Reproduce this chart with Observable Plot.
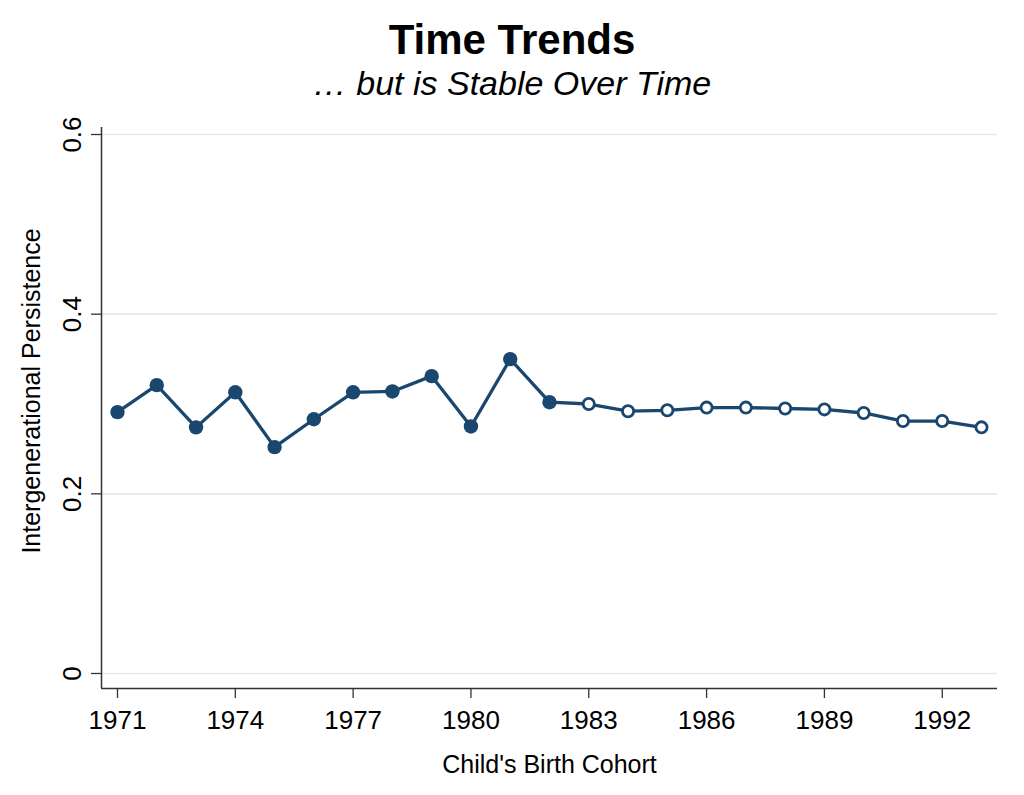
<!DOCTYPE html>
<html>
<head>
<meta charset="utf-8">
<script src="https://cdn.jsdelivr.net/npm/d3@7"></script>
<script src="https://cdn.jsdelivr.net/npm/@observablehq/plot@0.6"></script>
<style>
  html, body { margin: 0; padding: 0; background: #fff; }
  body { width: 1024px; height: 795px; position: relative; overflow: hidden; font-family: "Liberation Sans", Arial, sans-serif; }
  #title { position: absolute; left: 0; width: 1024px; top: 19px; text-align: center; font-size: 42px; line-height: 42px; font-weight: bold; color: #000; }
  #subtitle { position: absolute; left: 0; width: 1024px; top: 66px; text-align: center; font-size: 34px; line-height: 34px; font-style: italic; color: #000; }
  #chart { position: absolute; left: 0; top: 110px; }
</style>
</head>
<body>
<div id="title"></div>
<div id="subtitle"></div>
<div id="chart"></div>
<script>
const titleText = "Time Trends";
const subtitleText = "\u2026 but is Stable Over Time";
const xLabel = "Child's Birth Cohort";
const yLabel = "Intergenerational Persistence";

const years = [1971, 1972, 1973, 1974, 1975, 1976, 1977, 1978, 1979, 1980, 1981, 1982,
               1983, 1984, 1985, 1986, 1987, 1988, 1989, 1990, 1991, 1992, 1993];
const persistence = [0.291, 0.321, 0.274, 0.313, 0.252, 0.283, 0.313, 0.314, 0.331, 0.275, 0.350, 0.302,
                     0.300, 0.292, 0.293, 0.296, 0.296, 0.295, 0.294, 0.290, 0.281, 0.281, 0.274];
const lastFilledYear = 1982;
const xTicks = [1971, 1974, 1977, 1980, 1983, 1986, 1989, 1992];
const yTicks = [0, 0.2, 0.4, 0.6];

document.getElementById("title").textContent = titleText;
document.getElementById("subtitle").textContent = subtitleText;

const data = years.map((year, i) => ({year, value: persistence[i]}));
const filled = data.filter(d => d.year <= lastFilledYear);
const hollow = data.filter(d => d.year > lastFilledYear);

const navy = "#1a476f";
const axisColor = "#333333";
const xDomain = [1970.593, 1993.407];
const yDomain = [-0.0167, 0.6078];

const chart = Plot.plot({
  width: 1024,
  height: 685,
  marginTop: 17,
  marginBottom: 107,
  marginLeft: 101,
  marginRight: 27,
  style: { fontFamily: "'Liberation Sans', Arial, sans-serif", color: "#000", background: "#fff" },
  x: { type: "linear", domain: xDomain, axis: null },
  y: { type: "linear", domain: yDomain, axis: null },
  marks: [
    Plot.ruleY(yTicks, { stroke: "#e1ebed", strokeWidth: 1.6 }),
    Plot.ruleX([xDomain[0]], { stroke: axisColor, strokeWidth: 1.5 }),
    Plot.ruleY([yDomain[0]], { stroke: axisColor, strokeWidth: 1.5 }),
    Plot.axisX({ ticks: xTicks, tickSize: 10, tickPadding: 12, fontSize: 26, stroke: axisColor, strokeWidth: 1.3, tickFormat: d => String(d), label: null }),
    Plot.axisY({ ticks: yTicks, tickSize: 10, stroke: axisColor, strokeWidth: 1.3, tickFormat: () => "", label: null }),
    Plot.text(yTicks, { y: d => d, text: d => String(d), frameAnchor: "left", dx: -29, rotate: -90, fontSize: 26, textAnchor: "middle", lineAnchor: "middle", fill: "#000" }),
    Plot.text([yLabel], { text: d => d, frameAnchor: "left", dx: -70, dy: -17, rotate: -90, fontSize: 25, textAnchor: "middle", lineAnchor: "middle", fill: "#000" }),
    Plot.text([xLabel], { text: d => d, frameAnchor: "bottom", dy: 76, fontSize: 25, textAnchor: "middle", lineAnchor: "middle", fill: "#000" }),
    Plot.line(data, { x: "year", y: "value", stroke: navy, strokeWidth: 3.3 }),
    Plot.dot(filled, { x: "year", y: "value", r: 7.2, fill: navy, stroke: "none" }),
    Plot.dot(hollow, { x: "year", y: "value", r: 5.6, fill: "#fff", stroke: navy, strokeWidth: 2.8 })
  ]
});
document.getElementById("chart").appendChild(chart);
</script>
</body>
</html>
